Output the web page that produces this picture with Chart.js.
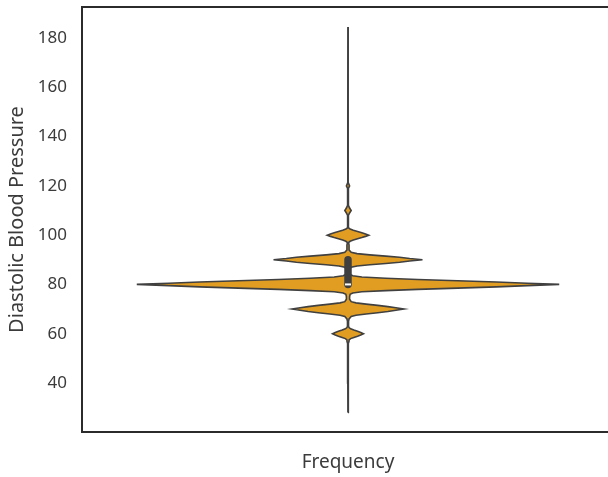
<!DOCTYPE html>
<html>
<head>
<meta charset="utf-8">
<script src="https://cdn.jsdelivr.net/npm/chart.js@4.4.0/dist/chart.umd.min.js"></script>
<style>
  html, body { margin: 0; padding: 0; background: #fff; overflow: hidden; }
  #wrap { width: 608px; height: 477px; overflow: hidden; }
</style>
</head>
<body>
<div id="wrap"><canvas id="violin" width="620" height="477"></canvas></div>
<script>
// blood pressure levels (y) and the violin half width
const bpLevels = [28, 40, 50, 56, 57, 57.5, 58, 58.5, 59, 59.5, 60, 60.5, 61, 61.5, 62, 62.5, 63,
  65, 66, 67, 67.5, 68, 68.5, 69, 69.5, 70, 70.5, 71, 71.5, 72, 72.5, 73, 74,
  75, 76, 76.5, 77, 77.5, 78, 78.5, 79, 79.5, 80, 80.5, 81, 81.5, 82, 82.5, 83, 83.5, 84,
  85, 86, 87, 87.5, 88, 88.5, 89, 89.5, 90, 90.5, 91, 91.5, 92, 92.5, 93, 94,
  96, 97, 97.5, 98, 98.5, 99, 99.5, 100, 100.5, 101, 101.5, 102, 102.5, 103,
  105, 108, 109, 110, 111, 112, 115, 119, 120, 121, 125, 150, 184.5];
const violinDensity = [0, 0.0003, 0.0005, 0.001, 0.002, 0.002, 0.005, 0.011, 0.018, 0.024, 0.029, 0.024, 0.018, 0.011, 0.005, 0.002, 0.001,
  0.001, 0.002, 0.006, 0.015, 0.034, 0.056, 0.075, 0.090, 0.105, 0.090, 0.075, 0.056, 0.034, 0.015, 0.006, 0.003,
  0.003, 0.004, 0.009, 0.026, 0.071, 0.131, 0.206, 0.279, 0.337, 0.397, 0.337, 0.279, 0.206, 0.131, 0.071, 0.026, 0.009, 0.004,
  0.003, 0.003, 0.006, 0.017, 0.041, 0.071, 0.097, 0.116, 0.140, 0.116, 0.097, 0.071, 0.041, 0.017, 0.006, 0.002,
  0.002, 0.001, 0.004, 0.010, 0.018, 0.026, 0.033, 0.039, 0.033, 0.026, 0.018, 0.010, 0.004, 0.001,
  0.0005, 0.001, 0.003, 0.006, 0.003, 0.001, 0.0005, 0.001, 0.003, 0.001, 0.0005, 0.0003, 0];

// inner box: quartiles and median
const boxQuartiles = [80, 90];
const boxMedian = [80];

const yTicks = [40, 60, 80, 100, 120, 140, 160, 180];

const orange = 'rgb(224,157,34)';
const edge = '#404040';
const textColor = '#3b3b3b';

// right and left halves of the violin
let rightSide = bpLevels.map((v, i) => ({x: violinDensity[i], y: v}));
let leftSide = bpLevels.map((v, i) => ({x: -violinDensity[i], y: v}));

// matplotlib style closed frame (top and right lines)
const framePlugin = {
  id: 'frame',
  afterDraw(chart) {
    const {ctx, chartArea} = chart;
    ctx.save();
    ctx.strokeStyle = '#2b2b2b';
    ctx.lineWidth = 2;
    ctx.strokeRect(chartArea.left, chartArea.top, chartArea.right - chartArea.left, chartArea.bottom - chartArea.top);
    ctx.restore();
  }
};

const font = 'Noto Sans';

let violinChart = new Chart(document.getElementById('violin'), {
  type: 'line',
  data: {
    datasets: [
      {
        data: rightSide,
        order: 2,
        fill: 'origin',
        backgroundColor: orange,
        borderColor: edge,
        borderWidth: 1.6,
        pointRadius: 0
      },
      {
        data: leftSide,
        order: 2,
        fill: 'origin',
        backgroundColor: orange,
        borderColor: edge,
        borderWidth: 1.6,
        pointRadius: 0
      },
      {
        data: boxQuartiles.map(v => ({x: 0, y: v})),
        order: 1,
        fill: false,
        borderColor: '#3f3f3f',
        borderWidth: 7.5,
        borderCapStyle: 'round',
        pointRadius: 0
      },
      {
        data: boxMedian.map(v => ({x: 0, y: v})),
        order: 0,
        showLine: false,
        pointStyle: 'line',
        pointRadius: 3,
        pointBorderColor: '#ffffff',
        pointBorderWidth: 2
      }
    ]
  },
  options: {
    indexAxis: 'y',
    responsive: false,
    animation: false,
    layout: { padding: { top: 7, right: 4, left: 0, bottom: 0 } },
    plugins: { legend: { display: false }, tooltip: { enabled: false } },
    scales: {
      x: {
        type: 'linear',
        min: -0.5,
        max: 0.5,
        grid: { display: false, drawTicks: false },
        border: { display: true, color: '#2b2b2b', width: 2 },
        ticks: { display: false },
        title: {
          display: true,
          text: 'Frequency',
          color: textColor,
          font: { family: font, size: 19 },
          padding: { top: 0, bottom: 3 }
        },
        afterFit: (scale) => {
          scale.height = 45;
          scale.paddingLeft = 0;
          scale.paddingRight = 0;
        }
      },
      y: {
        type: 'linear',
        min: 20.1,
        max: 192.6,
        grid: { display: false, drawTicks: false },
        border: { display: true, color: '#2b2b2b', width: 2 },
        ticks: {
          color: textColor,
          padding: 15,
          font: { family: font, size: 17 }
        },
        afterBuildTicks: (scale) => { scale.ticks = yTicks.map(v => ({value: v})); },
        title: {
          display: true,
          text: 'Diastolic Blood Pressure',
          color: textColor,
          font: { family: font, size: 20 },
          padding: { top: 5, bottom: 0 }
        },
        afterFit: (scale) => {
          scale.width = 82;
          scale.paddingTop = 0;
          scale.paddingBottom = 0;
        }
      }
    }
  },
  plugins: [framePlugin]
});
</script>
</body>
</html>
